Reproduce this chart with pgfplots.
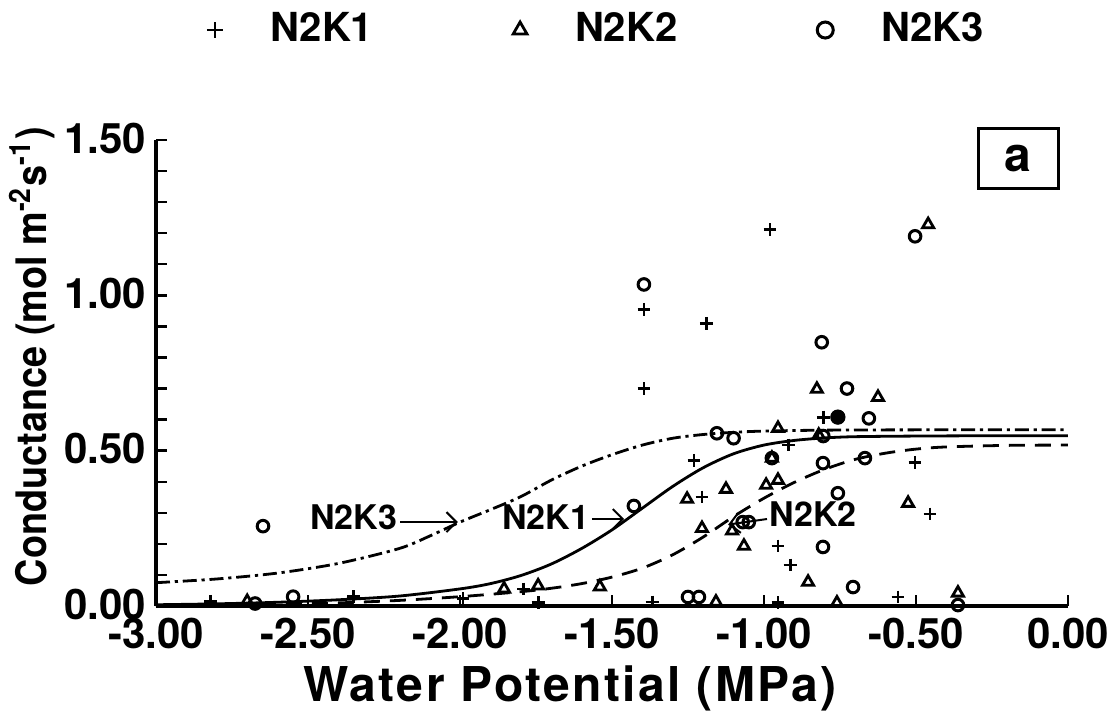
\documentclass[border=0pt]{standalone}
\usepackage{fontspec}
\setmainfont{TeX Gyre Heros}
\usepackage{pgfplots}
\pgfplotsset{compat=1.18}
\usetikzlibrary{arrows.meta}

\begin{document}
\begin{tikzpicture}
\useasboundingbox (-39pt,-30.25pt) rectangle (239.5pt,151.5pt);
\begin{axis}[
  at={(0pt,0pt)}, anchor=south west,
  scale only axis, width=228pt, height=116.5pt,
  xmin=-3, xmax=0, ymin=0, ymax=1.5,
  axis x line=bottom, axis y line=left,
  axis line style={-, line width=0.8pt},
  every tick/.style={black, line width=0.6pt},
  tick align=inside, major tick length=2.8pt, minor tick length=2.8pt,
  xtick={-3,-2.5,-2,-1.5,-1,-0.5,0},
  ytick={0,0.5,1,1.5},
  minor ytick={0.1,0.2,0.3,0.4,0.6,0.7,0.8,0.9,1.1,1.2,1.3,1.4},
  /pgf/number format/.cd, fixed, fixed zerofill, precision=2, assume math mode=true,
  /pgfplots/.cd,
  tick label style={font=\fontsize{10.5}{12}\selectfont\bfseries},
  xticklabel style={yshift=0.5pt},
  yticklabel style={xshift=1pt, yshift=0.5pt},
  xlabel={Water Potential (MPa)},
  ylabel={Conductance (mol m\textsuperscript{-2}s\textsuperscript{-1})},
  every axis x label/.style={at={(axis description cs:0.454,-0.176)}, anchor=center,
     font=\fontsize{12}{14}\selectfont\bfseries\addfontfeature{LetterSpace=5}},
  every axis y label/.style={at={(axis description cs:-0.136,0.535)}, rotate=90, anchor=center,
     font=\fontsize{10.5}{12}\selectfont\bfseries\addfontfeature{FakeStretch=0.9}},
  clip=false,
  legend columns=3,
  legend image code/.code={\draw[#1, mark size=2pt] plot coordinates {(0cm,0cm)};},
  legend style={at={(axis description cs:0.486,1.236)}, anchor=center, draw=none,
     font=\fontsize{10}{12}\selectfont\bfseries,
     /tikz/every odd column/.append style={column sep=10pt},
     /tikz/every even column/.append style={column sep=33pt}},
]
% N2K1
\addplot[only marks, mark=+, mark size=1.6pt, mark options={line width=0.7pt}] coordinates {
(-2.82,0.015) (-2.35,0.03) (-1.99,0.023) (-1.79,0.055) (-1.743,0.01)
(-1.395,0.955) (-1.395,0.70) (-1.368,0.013) (-1.19,0.91) (-1.23,0.469)
(-1.204,0.351) (-0.98,1.212) (-0.954,0.193) (-0.954,0.01) (-0.914,0.132)
(-0.92,0.518) (-0.805,0.608) (-0.503,0.463) (-0.454,0.296) (-0.559,0.029)
};
\addlegendentry{N2K1}
% N2K2
\addplot[only marks, mark=triangle, mark size=1.6pt, mark options={line width=0.7pt}] coordinates {
(-2.70,0.015) (-1.855,0.055) (-1.743,0.065) (-1.54,0.062) (-1.253,0.344)
(-1.204,0.25) (-1.158,0.013) (-1.125,0.376) (-1.105,0.242) (-1.066,0.193)
(-0.993,0.389) (-0.954,0.405) (-0.954,0.572) (-0.974,0.476) (-0.855,0.077)
(-0.826,0.698) (-0.82,0.55) (-0.76,0.01) (-0.625,0.672) (-0.526,0.331)
(-0.46,1.228) (-0.362,0.042)
};
\addlegendentry{N2K2}
% N2K3
\addplot[only marks, mark=o, mark size=1.45pt, mark options={line width=0.75pt}] coordinates {
(-2.648,0.257) (-2.674,0.008) (-2.549,0.03) (-1.395,1.035) (-1.428,0.322)
(-1.25,0.029) (-1.214,0.029) (-1.155,0.556) (-1.10,0.54) (-1.07,0.27)
(-1.05,0.27) (-0.974,0.476) (-0.81,0.849) (-0.806,0.19) (-0.806,0.46)
(-0.805,0.547) (-0.757,0.608) (-0.757,0.363) (-0.727,0.70) (-0.707,0.061)
(-0.668,0.476) (-0.655,0.604) (-0.503,1.19) (-0.362,0.003)
};
\addlegendentry{N2K3}
\addplot[only marks, mark=*, mark size=1.7pt, forget plot] coordinates {(-0.757,0.608)};
% fitted curves
\addplot[forget plot, smooth, line width=0.7pt] coordinates {
(-3.0,0.004) (-2.8,0.007) (-2.6,0.012) (-2.4,0.02) (-2.2,0.032) (-2.0,0.055)
(-1.9,0.072) (-1.8,0.098) (-1.7,0.135) (-1.6,0.185) (-1.5,0.245) (-1.4,0.315)
(-1.3,0.385) (-1.2,0.445) (-1.1,0.49) (-1.0,0.518) (-0.9,0.533) (-0.8,0.541)
(-0.7,0.545) (-0.5,0.547) (-0.25,0.548) (0,0.548)
};
\addplot[forget plot, smooth, line width=0.7pt, dash pattern=on 4pt off 2.5pt] coordinates {
(-3.0,0.001) (-2.8,0.002) (-2.6,0.005) (-2.4,0.01) (-2.2,0.018) (-2.0,0.03)
(-1.8,0.046) (-1.7,0.057) (-1.6,0.072) (-1.5,0.093) (-1.4,0.122) (-1.3,0.165)
(-1.2,0.222) (-1.1,0.288) (-1.0,0.347) (-0.9,0.398) (-0.8,0.44) (-0.7,0.472)
(-0.6,0.492) (-0.5,0.505) (-0.4,0.512) (-0.2,0.517) (0,0.518)
};
\addplot[forget plot, smooth, line width=0.7pt, dash pattern=on 3.5pt off 1.2pt on 0.8pt off 1.2pt] coordinates {
(-3.0,0.075) (-2.8,0.087) (-2.6,0.106) (-2.4,0.137) (-2.2,0.185) (-2.1,0.225)
(-2.0,0.27) (-1.9,0.31) (-1.8,0.352) (-1.7,0.405) (-1.6,0.45) (-1.5,0.487)
(-1.4,0.518) (-1.3,0.54) (-1.2,0.552) (-1.1,0.559) (-1.0,0.563) (-0.8,0.566)
(-0.5,0.567) (0,0.567)
};
% annotations
\node[draw, line width=0.8pt, minimum width=20pt, minimum height=15pt, inner sep=0pt,
  font=\fontsize{12}{14}\selectfont\bfseries] at (axis cs:-0.164,1.44) {a};
\node[anchor=east, inner sep=0.5pt, font=\fontsize{8.5}{10}\selectfont\bfseries] at (axis cs:-2.197,0.286) {N2K3};
\draw[-{Straight Barb[length=2.5pt,width=5pt]}, line width=0.5pt] (axis cs:-2.197,0.27) -- (axis cs:-2.007,0.27);
\node[anchor=east, inner sep=0.5pt, font=\fontsize{8.5}{10}\selectfont\bfseries] at (axis cs:-1.566,0.286) {N2K1};
\draw[-{Straight Barb[length=2.5pt,width=5pt]}, line width=0.5pt] (axis cs:-1.566,0.28) -- (axis cs:-1.46,0.28);
\node[anchor=west, inner sep=0.5pt, font=\fontsize{8.5}{10}\selectfont\bfseries] at (axis cs:-0.99,0.297) {N2K2};
\draw[-{Straight Barb[length=2.5pt,width=5pt]}, line width=0.5pt] (axis cs:-0.99,0.28) -- (axis cs:-1.118,0.262);
\end{axis}
\end{tikzpicture}
\end{document}
